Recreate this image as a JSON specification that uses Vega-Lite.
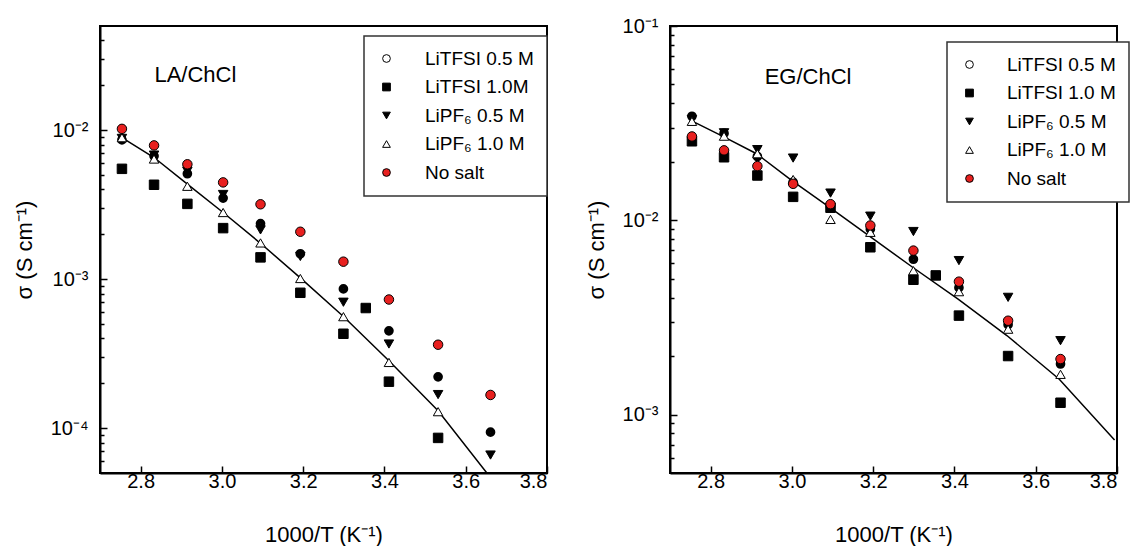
{
  "$schema": "https://vega.github.io/schema/vega-lite/v6.json",
  "background": "white",
  "padding": {"left": 12, "top": 15, "right": 0, "bottom": 0},
  "bounds": "flush",
  "spacing": 123,
  "config": {
    "view": {"stroke": "black", "strokeWidth": 2},
    "font": "Liberation Sans",
    "axis": {"domainColor": "black", "domainWidth": 2, "tickColor": "black", "tickWidth": 1.5, "labelColor": "black", "labelFont": "Liberation Sans", "labelFontSize": 20, "titleFont": "Liberation Sans", "titleFontSize": 22, "titleFontWeight": "normal", "titleColor": "black", "grid": false},
    "legend": {"labelFont": "Liberation Sans", "labelFontSize": 19, "labelColor": "black", "strokeColor": "#333333", "strokeWidth": 1.5, "fillColor": "white", "padding": 13, "rowPadding": 8.5, "labelOffset": 29, "symbolSize": 60, "symbolStrokeColor": "black", "symbolStrokeWidth": 1}
  },
  "resolve": {"scale": {"shape": "independent", "fill": "independent", "stroke": "independent"}, "legend": {"shape": "independent", "fill": "independent", "stroke": "independent"}},
  "datasets": {
    "la_points": [
      {"x": 2.754, "s": 0.0086, "series": "LiTFSI 0.5 M"},
      {"x": 2.833, "s": 0.0067, "series": "LiTFSI 0.5 M"},
      {"x": 2.915, "s": 0.0051, "series": "LiTFSI 0.5 M"},
      {"x": 3.003, "s": 0.0035, "series": "LiTFSI 0.5 M"},
      {"x": 3.095, "s": 0.00236, "series": "LiTFSI 0.5 M"},
      {"x": 3.193, "s": 0.00148, "series": "LiTFSI 0.5 M"},
      {"x": 3.299, "s": 0.00086, "series": "LiTFSI 0.5 M"},
      {"x": 3.411, "s": 0.00045, "series": "LiTFSI 0.5 M"},
      {"x": 3.532, "s": 0.000221, "series": "LiTFSI 0.5 M"},
      {"x": 3.661, "s": 0.000094, "series": "LiTFSI 0.5 M"},
      {"x": 2.754, "s": 0.0055, "series": "LiTFSI 1.0M"},
      {"x": 2.833, "s": 0.0043, "series": "LiTFSI 1.0M"},
      {"x": 2.915, "s": 0.0032, "series": "LiTFSI 1.0M"},
      {"x": 3.003, "s": 0.0022, "series": "LiTFSI 1.0M"},
      {"x": 3.095, "s": 0.0014, "series": "LiTFSI 1.0M"},
      {"x": 3.193, "s": 0.00081, "series": "LiTFSI 1.0M"},
      {"x": 3.299, "s": 0.00043, "series": "LiTFSI 1.0M"},
      {"x": 3.354, "s": 0.00064, "series": "LiTFSI 1.0M"},
      {"x": 3.411, "s": 0.000205, "series": "LiTFSI 1.0M"},
      {"x": 3.532, "s": 0.000086, "series": "LiTFSI 1.0M"},
      {"x": 2.754, "s": 0.0088, "series": "LiPF₆ 0.5 M"},
      {"x": 2.833, "s": 0.0068, "series": "LiPF₆ 0.5 M"},
      {"x": 2.915, "s": 0.0053, "series": "LiPF₆ 0.5 M"},
      {"x": 3.003, "s": 0.0037, "series": "LiPF₆ 0.5 M"},
      {"x": 3.095, "s": 0.00214, "series": "LiPF₆ 0.5 M"},
      {"x": 3.193, "s": 0.00142, "series": "LiPF₆ 0.5 M"},
      {"x": 3.299, "s": 0.0007, "series": "LiPF₆ 0.5 M"},
      {"x": 3.411, "s": 0.000367, "series": "LiPF₆ 0.5 M"},
      {"x": 3.532, "s": 0.000168, "series": "LiPF₆ 0.5 M"},
      {"x": 3.661, "s": 0.000066, "series": "LiPF₆ 0.5 M"},
      {"x": 2.754, "s": 0.0089, "series": "LiPF₆ 1.0 M"},
      {"x": 2.833, "s": 0.0064, "series": "LiPF₆ 1.0 M"},
      {"x": 2.915, "s": 0.0042, "series": "LiPF₆ 1.0 M"},
      {"x": 3.003, "s": 0.0028, "series": "LiPF₆ 1.0 M"},
      {"x": 3.095, "s": 0.00175, "series": "LiPF₆ 1.0 M"},
      {"x": 3.193, "s": 0.00101, "series": "LiPF₆ 1.0 M"},
      {"x": 3.299, "s": 0.00056, "series": "LiPF₆ 1.0 M"},
      {"x": 3.411, "s": 0.000276, "series": "LiPF₆ 1.0 M"},
      {"x": 3.532, "s": 0.000129, "series": "LiPF₆ 1.0 M"},
      {"x": 2.754, "s": 0.0102, "series": "No salt"},
      {"x": 2.833, "s": 0.0079, "series": "No salt"},
      {"x": 2.915, "s": 0.0059, "series": "No salt"},
      {"x": 3.003, "s": 0.00446, "series": "No salt"},
      {"x": 3.095, "s": 0.00318, "series": "No salt"},
      {"x": 3.193, "s": 0.00208, "series": "No salt"},
      {"x": 3.299, "s": 0.00131, "series": "No salt"},
      {"x": 3.411, "s": 0.00073, "series": "No salt"},
      {"x": 3.532, "s": 0.000363, "series": "No salt"},
      {"x": 3.661, "s": 0.000167, "series": "No salt"}
    ],
    "la_fit": [
      {"x": 2.754, "s": 0.0089},
      {"x": 2.833, "s": 0.00655},
      {"x": 2.915, "s": 0.00434},
      {"x": 3.003, "s": 0.0028},
      {"x": 3.095, "s": 0.00174},
      {"x": 3.193, "s": 0.00102},
      {"x": 3.299, "s": 0.000562},
      {"x": 3.411, "s": 0.000283},
      {"x": 3.532, "s": 0.000131},
      {"x": 3.652, "s": 0.00005}
    ],
    "la_label": [{"x": 2.834, "s": 0.0233, "label": "LA/ChCl"}],
    "eg_points": [
      {"x": 2.754, "s": 0.0343, "series": "LiTFSI 0.5 M"},
      {"x": 2.833, "s": 0.028, "series": "LiTFSI 0.5 M"},
      {"x": 2.915, "s": 0.0213, "series": "LiTFSI 0.5 M"},
      {"x": 3.003, "s": 0.0157, "series": "LiTFSI 0.5 M"},
      {"x": 3.095, "s": 0.0117, "series": "LiTFSI 0.5 M"},
      {"x": 3.193, "s": 0.009, "series": "LiTFSI 0.5 M"},
      {"x": 3.299, "s": 0.0063, "series": "LiTFSI 0.5 M"},
      {"x": 3.411, "s": 0.0045, "series": "LiTFSI 0.5 M"},
      {"x": 3.532, "s": 0.0029, "series": "LiTFSI 0.5 M"},
      {"x": 3.661, "s": 0.00182, "series": "LiTFSI 0.5 M"},
      {"x": 2.754, "s": 0.0255, "series": "LiTFSI 1.0 M"},
      {"x": 2.833, "s": 0.0211, "series": "LiTFSI 1.0 M"},
      {"x": 2.915, "s": 0.017, "series": "LiTFSI 1.0 M"},
      {"x": 3.003, "s": 0.0132, "series": "LiTFSI 1.0 M"},
      {"x": 3.095, "s": 0.0116, "series": "LiTFSI 1.0 M"},
      {"x": 3.193, "s": 0.00726, "series": "LiTFSI 1.0 M"},
      {"x": 3.299, "s": 0.00494, "series": "LiTFSI 1.0 M"},
      {"x": 3.354, "s": 0.0052, "series": "LiTFSI 1.0 M"},
      {"x": 3.411, "s": 0.00323, "series": "LiTFSI 1.0 M"},
      {"x": 3.532, "s": 0.002, "series": "LiTFSI 1.0 M"},
      {"x": 3.661, "s": 0.00115, "series": "LiTFSI 1.0 M"},
      {"x": 2.754, "s": 0.033, "series": "LiPF₆ 0.5 M"},
      {"x": 2.833, "s": 0.0282, "series": "LiPF₆ 0.5 M"},
      {"x": 2.915, "s": 0.0231, "series": "LiPF₆ 0.5 M"},
      {"x": 3.003, "s": 0.0209, "series": "LiPF₆ 0.5 M"},
      {"x": 3.095, "s": 0.0138, "series": "LiPF₆ 0.5 M"},
      {"x": 3.193, "s": 0.0105, "series": "LiPF₆ 0.5 M"},
      {"x": 3.299, "s": 0.00875, "series": "LiPF₆ 0.5 M"},
      {"x": 3.411, "s": 0.0062, "series": "LiPF₆ 0.5 M"},
      {"x": 3.532, "s": 0.00401, "series": "LiPF₆ 0.5 M"},
      {"x": 3.661, "s": 0.0024, "series": "LiPF₆ 0.5 M"},
      {"x": 2.754, "s": 0.0323, "series": "LiPF₆ 1.0 M"},
      {"x": 2.833, "s": 0.0271, "series": "LiPF₆ 1.0 M"},
      {"x": 2.915, "s": 0.022, "series": "LiPF₆ 1.0 M"},
      {"x": 3.003, "s": 0.0162, "series": "LiPF₆ 1.0 M"},
      {"x": 3.095, "s": 0.0101, "series": "LiPF₆ 1.0 M"},
      {"x": 3.193, "s": 0.00867, "series": "LiPF₆ 1.0 M"},
      {"x": 3.299, "s": 0.0055, "series": "LiPF₆ 1.0 M"},
      {"x": 3.411, "s": 0.00429, "series": "LiPF₆ 1.0 M"},
      {"x": 3.532, "s": 0.00275, "series": "LiPF₆ 1.0 M"},
      {"x": 3.661, "s": 0.00161, "series": "LiPF₆ 1.0 M"},
      {"x": 2.754, "s": 0.027, "series": "No salt"},
      {"x": 2.833, "s": 0.0229, "series": "No salt"},
      {"x": 2.915, "s": 0.019, "series": "No salt"},
      {"x": 3.003, "s": 0.0154, "series": "No salt"},
      {"x": 3.095, "s": 0.0121, "series": "No salt"},
      {"x": 3.193, "s": 0.0094, "series": "No salt"},
      {"x": 3.299, "s": 0.00698, "series": "No salt"},
      {"x": 3.411, "s": 0.00483, "series": "No salt"},
      {"x": 3.532, "s": 0.00304, "series": "No salt"},
      {"x": 3.661, "s": 0.00193, "series": "No salt"}
    ],
    "eg_fit": [
      {"x": 2.751, "s": 0.0327},
      {"x": 2.829, "s": 0.0271},
      {"x": 2.913, "s": 0.022},
      {"x": 3.0, "s": 0.016},
      {"x": 3.092, "s": 0.0117},
      {"x": 3.19, "s": 0.0083},
      {"x": 3.297, "s": 0.00573},
      {"x": 3.409, "s": 0.00393},
      {"x": 3.529, "s": 0.00255},
      {"x": 3.658, "s": 0.00152},
      {"x": 3.794, "s": 0.00074}
    ],
    "eg_label": [{"x": 2.933, "s": 0.0546, "label": "EG/ChCl"}]
  },
  "hconcat": [
    {
      "width": 447,
      "height": 447,
      "encoding": {
        "x": {"field": "x", "type": "quantitative", "scale": {"domain": [2.7, 3.8], "nice": false, "zero": false},
          "axis": {"title": "1000/T (K⁻¹)", "values": [2.8, 3.0, 3.2, 3.4, 3.6, 3.8], "format": ".1f", "tickSize": -7, "labelPadding": 5, "titlePadding": 33}},
        "y": {"field": "s", "type": "quantitative", "scale": {"type": "log", "domain": [0.00005, 0.05], "nice": false},
          "axis": {"title": "σ (S cm⁻¹)", "titlePadding": 14, "labelPadding": 19,
            "values": [0.00006, 0.00007, 0.00008, 0.00009, 0.0001, 0.0002, 0.0003, 0.0004, 0.0005, 0.0006, 0.0007, 0.0008, 0.0009, 0.001, 0.002, 0.003, 0.004, 0.005, 0.006, 0.007, 0.008, 0.009, 0.01, 0.02, 0.03, 0.04],
            "labelExpr": "abs(log(datum.value)/LN10 - round(log(datum.value)/LN10)) < 0.001 ? '10⁻' + ['⁰','¹','²','³','⁴','⁵'][-round(log(datum.value)/LN10)] : ''",
            "tickSize": {"condition": {"test": "abs(log(datum.value)/LN10 - round(log(datum.value)/LN10)) < 0.001", "value": -7}, "value": -4}}}
      },
      "layer": [
        {"data": {"name": "la_fit"}, "mark": {"type": "line", "color": "black", "strokeWidth": 1.5, "clip": true}},
        {"data": {"name": "la_points"},
          "transform": [{"filter": "datum.series === 'LiTFSI 0.5 M'"}],
          "mark": {"type": "point", "filled": true, "strokeWidth": 5, "size": 22, "opacity": 1},
          "encoding": {
            "shape": {"field": "series", "type": "nominal", "sort": null,
              "scale": {"domain": ["LiTFSI 0.5 M", "LiTFSI 1.0M", "LiPF₆ 0.5 M", "LiPF₆ 1.0 M", "No salt"], "range": ["circle", "square", "triangle-down", "triangle-up", "circle"]},
              "legend": {"title": null, "orient": "none", "legendX": 264, "legendY": 10}},
            "fill": {"field": "series", "type": "nominal", "sort": null,
              "scale": {"domain": ["LiTFSI 0.5 M", "LiTFSI 1.0M", "LiPF₆ 0.5 M", "LiPF₆ 1.0 M", "No salt"], "range": ["white", "black", "black", "white", "#e8201f"]},
              "legend": {"title": null, "orient": "none", "legendX": 264, "legendY": 10}},
            "stroke": {"field": "series", "type": "nominal", "sort": null,
              "scale": {"domain": ["LiTFSI 0.5 M", "LiTFSI 1.0M", "LiPF₆ 0.5 M", "LiPF₆ 1.0 M", "No salt"], "range": ["black", "black", "black", "black", "black"]},
              "legend": {"title": null, "orient": "none", "legendX": 264, "legendY": 10}}
          }},
        {"data": {"name": "la_points"},
          "transform": [{"filter": "datum.series !== 'LiTFSI 0.5 M'"}],
          "mark": {"type": "point", "filled": true, "strokeWidth": 1, "size": 90, "opacity": 1},
          "encoding": {
            "shape": {"field": "series", "type": "nominal", "sort": null,
              "scale": {"domain": ["LiTFSI 0.5 M", "LiTFSI 1.0M", "LiPF₆ 0.5 M", "LiPF₆ 1.0 M", "No salt"], "range": ["circle", "square", "triangle-down", "triangle-up", "circle"]},
              "legend": {"title": null, "orient": "none", "legendX": 264, "legendY": 10}},
            "fill": {"field": "series", "type": "nominal", "sort": null,
              "scale": {"domain": ["LiTFSI 0.5 M", "LiTFSI 1.0M", "LiPF₆ 0.5 M", "LiPF₆ 1.0 M", "No salt"], "range": ["white", "black", "black", "white", "#e8201f"]},
              "legend": {"title": null, "orient": "none", "legendX": 264, "legendY": 10}},
            "stroke": {"field": "series", "type": "nominal", "sort": null,
              "scale": {"domain": ["LiTFSI 0.5 M", "LiTFSI 1.0M", "LiPF₆ 0.5 M", "LiPF₆ 1.0 M", "No salt"], "range": ["black", "black", "black", "black", "black"]},
              "legend": {"title": null, "orient": "none", "legendX": 264, "legendY": 10}}
          }},
        {"data": {"name": "la_label"}, "mark": {"type": "text", "align": "left", "baseline": "middle", "fontSize": 22, "font": "Liberation Sans", "color": "black"},
          "encoding": {"text": {"field": "label", "type": "nominal"}}}
      ]
    },
    {
      "width": 447,
      "height": 447,
      "encoding": {
        "x": {"field": "x", "type": "quantitative", "scale": {"domain": [2.7, 3.8], "nice": false, "zero": false},
          "axis": {"title": "1000/T (K⁻¹)", "values": [2.8, 3.0, 3.2, 3.4, 3.6, 3.8], "format": ".1f", "tickSize": -7, "labelPadding": 5, "titlePadding": 33}},
        "y": {"field": "s", "type": "quantitative", "scale": {"type": "log", "domain": [0.0005, 0.1], "nice": false},
          "axis": {"title": "σ (S cm⁻¹)", "titlePadding": 14, "labelPadding": 19,
            "values": [0.0006, 0.0007, 0.0008, 0.0009, 0.001, 0.002, 0.003, 0.004, 0.005, 0.006, 0.007, 0.008, 0.009, 0.01, 0.02, 0.03, 0.04, 0.05, 0.06, 0.07, 0.08, 0.09, 0.1],
            "labelExpr": "abs(log(datum.value)/LN10 - round(log(datum.value)/LN10)) < 0.001 ? '10⁻' + ['⁰','¹','²','³','⁴','⁵'][-round(log(datum.value)/LN10)] : ''",
            "tickSize": {"condition": {"test": "abs(log(datum.value)/LN10 - round(log(datum.value)/LN10)) < 0.001", "value": -7}, "value": -4}}}
      },
      "layer": [
        {"data": {"name": "eg_fit"}, "mark": {"type": "line", "color": "black", "strokeWidth": 1.5, "clip": true}},
        {"data": {"name": "eg_points"},
          "transform": [{"filter": "datum.series === 'LiTFSI 0.5 M'"}],
          "mark": {"type": "point", "filled": true, "strokeWidth": 5, "size": 22, "opacity": 1},
          "encoding": {
            "shape": {"field": "series", "type": "nominal", "sort": null,
              "scale": {"domain": ["LiTFSI 0.5 M", "LiTFSI 1.0 M", "LiPF₆ 0.5 M", "LiPF₆ 1.0 M", "No salt"], "range": ["circle", "square", "triangle-down", "triangle-up", "circle"]},
              "legend": {"title": null, "orient": "none", "legendX": 277, "legendY": 16, "labelOffset": 28}},
            "fill": {"field": "series", "type": "nominal", "sort": null,
              "scale": {"domain": ["LiTFSI 0.5 M", "LiTFSI 1.0 M", "LiPF₆ 0.5 M", "LiPF₆ 1.0 M", "No salt"], "range": ["white", "black", "black", "white", "#e8201f"]},
              "legend": {"title": null, "orient": "none", "legendX": 277, "legendY": 16, "labelOffset": 28}},
            "stroke": {"field": "series", "type": "nominal", "sort": null,
              "scale": {"domain": ["LiTFSI 0.5 M", "LiTFSI 1.0 M", "LiPF₆ 0.5 M", "LiPF₆ 1.0 M", "No salt"], "range": ["black", "black", "black", "black", "black"]},
              "legend": {"title": null, "orient": "none", "legendX": 277, "legendY": 16, "labelOffset": 28}}
          }},
        {"data": {"name": "eg_points"},
          "transform": [{"filter": "datum.series !== 'LiTFSI 0.5 M'"}],
          "mark": {"type": "point", "filled": true, "strokeWidth": 1, "size": 90, "opacity": 1},
          "encoding": {
            "shape": {"field": "series", "type": "nominal", "sort": null,
              "scale": {"domain": ["LiTFSI 0.5 M", "LiTFSI 1.0 M", "LiPF₆ 0.5 M", "LiPF₆ 1.0 M", "No salt"], "range": ["circle", "square", "triangle-down", "triangle-up", "circle"]},
              "legend": {"title": null, "orient": "none", "legendX": 277, "legendY": 16, "labelOffset": 28}},
            "fill": {"field": "series", "type": "nominal", "sort": null,
              "scale": {"domain": ["LiTFSI 0.5 M", "LiTFSI 1.0 M", "LiPF₆ 0.5 M", "LiPF₆ 1.0 M", "No salt"], "range": ["white", "black", "black", "white", "#e8201f"]},
              "legend": {"title": null, "orient": "none", "legendX": 277, "legendY": 16, "labelOffset": 28}},
            "stroke": {"field": "series", "type": "nominal", "sort": null,
              "scale": {"domain": ["LiTFSI 0.5 M", "LiTFSI 1.0 M", "LiPF₆ 0.5 M", "LiPF₆ 1.0 M", "No salt"], "range": ["black", "black", "black", "black", "black"]},
              "legend": {"title": null, "orient": "none", "legendX": 277, "legendY": 16, "labelOffset": 28}}
          }},
        {"data": {"name": "eg_label"}, "mark": {"type": "text", "align": "left", "baseline": "middle", "fontSize": 22, "font": "Liberation Sans", "color": "black"},
          "encoding": {"text": {"field": "label", "type": "nominal"}}}
      ]
    }
  ]
}
